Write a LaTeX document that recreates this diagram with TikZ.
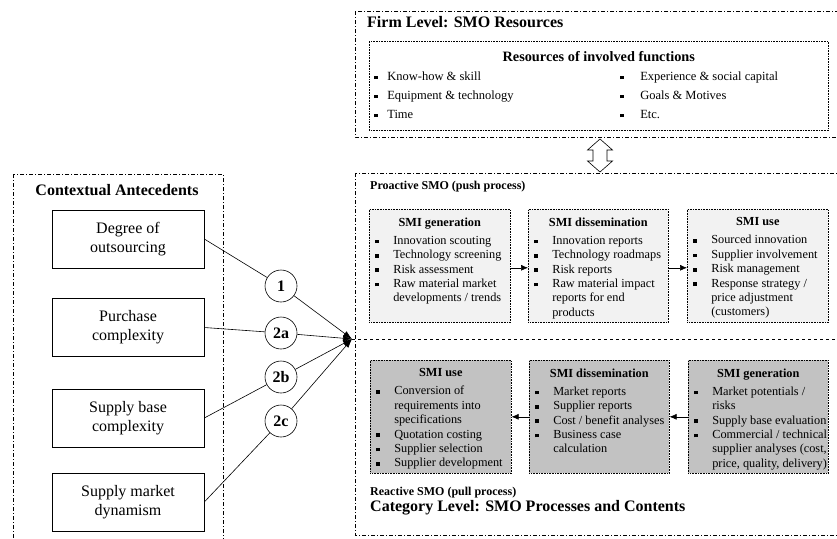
\documentclass[tikz,border=0pt]{standalone}
\usepackage{fontspec}
\setmainfont{Liberation Serif}
\usetikzlibrary{arrows.meta,positioning}

\definecolor{pushfill}{gray}{0.95}
\definecolor{pullfill}{gray}{0.76}

\tikzset{
  levelbox/.style={draw, line width=0.6pt, dash pattern=on 4pt off 2pt on 1pt off 2pt},
  procbox/.style={draw, densely dotted, line width=0.6pt, inner sep=0pt, anchor=north west},
  antebox/.style={draw, line width=0.6pt, minimum width=152pt, minimum height=58pt, inner sep=0pt,
    align=center, font=\fontsize{16}{19}\selectfont},
  hypo/.style={circle, draw, line width=0.6pt, fill=white, minimum size=32pt, inner sep=0pt,
    font=\fontsize{16}{19}\selectfont\bfseries},
  flow/.style={-{Latex[length=7pt,width=6pt]}, line width=0.6pt},
  effect/.style={-{Latex[length=9pt,width=6pt]}, line width=0.6pt},
  levellabel/.style={anchor=west, inner sep=0pt, font=\fontsize{16}{19}\selectfont\bfseries},
  modelabel/.style={anchor=west, inner sep=0pt, font=\fontsize{12}{14}\selectfont\bfseries},
}

% small square bullet
\newcommand{\sq}{\rule[0.2ex]{3.6pt}{3.6pt}}
\newcommand{\smihead}[1]{{\centering\bfseries #1\par}\vspace{3.6pt}}
\newcommand{\smiitem}{\par\noindent\llap{\sq\hspace{14.4pt}}}
\newcommand{\smibox}[2]{\begin{minipage}[t][113pt][t]{#1}\fontsize{12.3}{14.4}\selectfont
  \raggedright\leftskip=24pt\vspace*{8.5pt}#2\end{minipage}}
\newcommand{\resrow}[2]{\noindent\hspace*{5pt}\sq\hspace{9.4pt}\makebox[233pt][l]{#1}\sq\hspace{16.4pt}#2\par}

\begin{document}
\begin{tikzpicture}[x=1pt, y=-1pt]
    \useasboundingbox (0,0) rectangle (837,538);

    % level frames
    \draw[levelbox] (355,11) rectangle (840,137);
    \draw[levelbox] (355,173) rectangle (840,535);
    \draw[levelbox] (13,174) rectangle (223,541);

    \node[levellabel] (firm) at (367,22) {Firm Level: SMO Resources};
    \node[levellabel] (cat) at (370,508) {Category Level: SMO Processes and Contents};
    \node[levellabel, anchor=center] (ctx) at (117,190) {Contextual Antecedents};
    \node[modelabel] (push) at (370,187) {Proactive SMO (push process)};
    \node[modelabel] (pull) at (370,493) {Reactive SMO (pull process)};

    % resources
    \node[procbox] (res) at (369,41) {\begin{minipage}[t][89pt][t]{459pt}\fontsize{12.5}{19}\selectfont
        \vspace*{10pt}{\centering\fontsize{14.3}{19}\selectfont\bfseries Resources of involved functions\par}
        \resrow{Know-how \& skill}{Experience \& social capital}
        \resrow{Equipment \& technology}{Goals \& Motives}
        \resrow{Time}{Etc.}
        \end{minipage}};

    % link between the levels
    \draw[line width=0.6pt, fill=white] (600,139) -- (612.5,150) -- (607,150) -- (607,161) -- (612.5,161)
        -- (600,172) -- (587.5,161) -- (593,161) -- (593,150) -- (587.5,150) -- cycle;

    % proactive process
    \node[procbox, fill=pushfill] (pg) at (369,209) {\smibox{141pt}{\smihead{SMI generation}
        \smiitem Innovation scouting
        \smiitem Technology screening
        \smiitem Risk assessment
        \smiitem Raw material market\\ developments / trends}};
    \node[procbox, fill=pushfill] (pd) at (528,209) {\smibox{140pt}{\smihead{SMI dissemination}
        \smiitem Innovation reports
        \smiitem Technology roadmaps
        \smiitem Risk reports
        \smiitem Raw material impact\\ reports for end\\ products}};
    \node[procbox, fill=pushfill] (pu) at (687,209) {\smibox{141pt}{\smihead{SMI use}
        \smiitem Sourced innovation
        \smiitem Supplier involvement
        \smiitem Risk management
        \smiitem Response strategy /\\ price adjustment\\ (customers)}};

    \draw[flow] ([yshift=-2pt]pg.east) -- ([yshift=-2pt]pd.west);
    \draw[flow] ([yshift=-2pt]pd.east) -- ([yshift=-2pt]pu.west);

    % reactive process
    \node[procbox, fill=pullfill] (ru) at (370,360) {\smibox{141pt}{\smihead{SMI use}
        \smiitem Conversion of\\ requirements into\\ specifications
        \smiitem Quotation costing
        \smiitem Supplier selection
        \smiitem Supplier development}};
    \node[procbox, fill=pullfill] (rd) at (529,360) {\smibox{140pt}{\smihead{SMI dissemination}
        \smiitem Market reports
        \smiitem Supplier reports
        \smiitem Cost / benefit analyses
        \smiitem Business case\\ calculation}};
    \node[procbox, fill=pullfill] (rg) at (688,360) {\smibox{140pt}{\smihead{SMI generation}
        \smiitem Market potentials /\\ risks
        \smiitem Supply base evaluation
        \smiitem Commercial / technical\\ supplier analyses (cost,\\ price, quality, delivery)}};

    \draw[flow] (rd.west) -- (ru.east);
    \draw[flow] (rg.west) -- (rd.east);

    % separator between the two processes
    \coordinate (conv) at (352,339);
    \coordinate (sepend) at (840,339);
    \draw[dashed, line width=0.6pt] (conv) -- (sepend);

    % antecedents
    \node[antebox] (ab1) at (128,239) {Degree of\\outsourcing};
    \node[antebox] (ab2) at (128,327.5) {Purchase\\complexity};
    \node[antebox] (ab3) at (128,418) {Supply base\\complexity};
    \node[antebox] (ab4) at (128,502) {Supply market\\dynamism};

    \node[hypo] (h1) at (281,286) {1};
    \node[hypo] (h2a) at (281,333) {2a};
    \node[hypo] (h2b) at (281,377) {2b};
    \node[hypo] (h2c) at (281,421) {2c};

    \draw[line width=0.6pt] (ab1.east) -- (h1);
    \draw[line width=0.6pt] (ab2.east) -- (h2a);
    \draw[line width=0.6pt] (ab3.east) -- (h2b);
    \draw[line width=0.6pt] (ab4.east) -- (h2c);

    \draw[effect] (h1) -- (conv);
    \draw[effect] (h2a) -- (conv);
    \draw[effect] (h2b) -- (conv);
    \draw[effect] (h2c) -- (conv);
\end{tikzpicture}
\end{document}
